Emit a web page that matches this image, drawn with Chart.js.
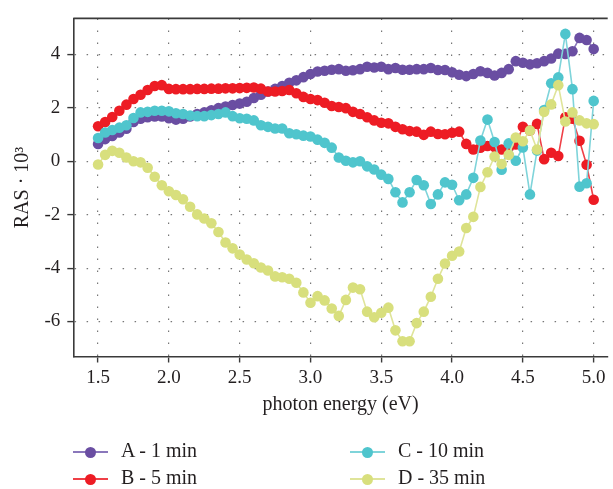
<!DOCTYPE html>
<html>
<head>
<meta charset="utf-8">
<script src="https://cdn.jsdelivr.net/npm/chart.js@4.4.1/dist/chart.umd.min.js"></script>
<style>
  body { margin: 0; background: #fff; }
  #wrap { position: relative; width: 613px; height: 489px; }
  #legend .row { position: absolute; height: 20px; }
  #legend .line { position: absolute; left: 0; top: 9px; width: 35px; height: 2px; }
  #legend .dot { position: absolute; left: 12px; top: 5px; width: 11px; height: 11px; border-radius: 50%; }
  #legend .txt { position: absolute; left: 48px; top: -3px; white-space: nowrap;
    font-family: 'Liberation Serif', serif; font-size: 20px; color: #231f20; }
</style>
</head>
<body>
<div id="wrap">
  <canvas id="chart" width="613" height="489"></canvas>
  <div id="legend"></div>
</div>
<script>
const energies = [
  1.50, 1.55, 1.60, 1.65, 1.70, 1.75, 1.80, 1.85, 1.90, 1.95,
  2.00, 2.05, 2.10, 2.15, 2.20, 2.25, 2.30, 2.35, 2.40, 2.45,
  2.50, 2.55, 2.60, 2.65, 2.70, 2.75, 2.80, 2.85, 2.90, 2.95,
  3.00, 3.05, 3.10, 3.15, 3.20, 3.25, 3.30, 3.35, 3.40, 3.45,
  3.50, 3.55, 3.60, 3.65, 3.70, 3.75, 3.80, 3.85, 3.90, 3.95,
  4.00, 4.05, 4.10, 4.15, 4.20, 4.25, 4.30, 4.35, 4.40, 4.45,
  4.50, 4.55, 4.60, 4.65, 4.70, 4.75, 4.80, 4.85, 4.90, 4.95,
  5.00
]

const rasA = [
  0.65, 0.83, 0.95, 1.08, 1.22, 1.47, 1.59, 1.65, 1.68, 1.68,
  1.61, 1.56, 1.59, 1.68, 1.77, 1.83, 1.91, 1.99, 2.05, 2.11,
  2.16, 2.23, 2.37, 2.49, 2.61, 2.71, 2.82, 2.94, 3.03, 3.15,
  3.27, 3.36, 3.39, 3.43, 3.45, 3.39, 3.41, 3.45, 3.54, 3.51,
  3.54, 3.45, 3.49, 3.43, 3.43, 3.45, 3.45, 3.49, 3.42, 3.42,
  3.33, 3.24, 3.19, 3.27, 3.37, 3.31, 3.21, 3.31, 3.45, 3.75,
  3.69, 3.63, 3.67, 3.75, 3.85, 4.03, 4.02, 4.12, 4.62, 4.54,
  4.20
]
const rasB = [
  1.31, 1.47, 1.66, 1.89, 2.12, 2.33, 2.49, 2.67, 2.82, 2.85,
  2.71, 2.70, 2.70, 2.70, 2.71, 2.71, 2.72, 2.72, 2.73, 2.73,
  2.74, 2.75, 2.76, 2.72, 2.61, 2.61, 2.63, 2.67, 2.55, 2.41,
  2.33, 2.29, 2.19, 2.07, 2.03, 1.99, 1.85, 1.77, 1.65, 1.53,
  1.44, 1.42, 1.29, 1.20, 1.13, 1.11, 0.99, 1.11, 1.02, 1.01,
  1.07, 1.11, 0.65, 0.44, 0.51, 0.57, 0.53, 0.44, 0.51, 0.63,
  1.29, 1.15, 1.40, 0.08, 0.32, 0.20, 1.65, 1.59, 0.77, -0.13,
  -1.44
]
const rasC = [
  0.87, 1.08, 1.17, 1.26, 1.35, 1.62, 1.83, 1.85, 1.89, 1.89,
  1.87, 1.80, 1.77, 1.71, 1.69, 1.69, 1.73, 1.77, 1.83, 1.69,
  1.61, 1.59, 1.53, 1.35, 1.29, 1.23, 1.23, 1.05, 1.01, 0.96,
  0.93, 0.81, 0.69, 0.51, 0.14, 0.02, -0.04, 0.00, -0.19, -0.31,
  -0.50, -0.66, -1.16, -1.54, -1.16, -0.70, -0.90, -1.60, -1.24, -0.79,
  -0.88, -1.46, -1.24, -0.62, 0.78, 1.56, 0.72, -0.32, 0.67, 0.02,
  0.52, -1.24, 0.40, 1.92, 2.92, 3.14, 4.77, 2.70, -0.95, -0.82,
  2.26
]
const rasD = [
  -0.12, 0.24, 0.39, 0.32, 0.14, 0.00, -0.04, -0.24, -0.58, -0.90,
  -1.12, -1.26, -1.42, -1.70, -1.99, -2.14, -2.32, -2.65, -3.04, -3.26,
  -3.49, -3.68, -3.82, -3.98, -4.09, -4.31, -4.34, -4.40, -4.55, -4.91,
  -5.30, -5.05, -5.21, -5.51, -5.79, -5.19, -4.73, -4.79, -5.63, -5.84,
  -5.67, -5.48, -6.33, -6.74, -6.74, -6.06, -5.63, -5.07, -4.40, -3.83,
  -3.54, -3.38, -2.50, -2.08, -0.96, -0.41, 0.18, -0.10, 0.24, 0.89,
  0.75, 1.15, 0.44, 1.85, 2.13, 2.85, 1.49, 1.83, 1.53, 1.42,
  1.39
]

const seriesNames = ['A - 1 min', 'B - 5 min', 'C - 10 min', 'D - 35 min']
const xTicks = [1.5, 2.0, 2.5, 3.0, 3.5, 4.0, 4.5, 5.0]
const yTicks = [-6, -4, -2, 0, 2, 4]

const colors = ['#6a4ea2', '#ed1c24', '#4fc5cd', '#d8df7d']
const lineColors = ['#8a77bb', '#ef4047', '#7fd4da', '#dfe49a']

const serif = "'Liberation Serif', serif"

function toPoints(values) {
    return values.map((v, i) => ({ x: energies[i], y: v }))
}

// top frame line, the reference has no right edge
const topBorder = {
    id: 'topBorder',
    afterDraw(chart) {
        const { ctx, chartArea } = chart
        ctx.save()
        ctx.strokeStyle = '#3a3a3a'
        ctx.lineWidth = 1.6
        ctx.beginPath()
        ctx.moveTo(chartArea.left, chartArea.top)
        ctx.lineTo(chartArea.right, chartArea.top)
        ctx.stroke()
        ctx.restore()
    }
}

function buildChart() {
    const allSeries = [rasA, rasB, rasC, rasD]
    const datasets = allSeries.map((values, k) => ({
        label: seriesNames[k],
        data: toPoints(values),
        borderColor: lineColors[k],
        backgroundColor: colors[k],
        pointBackgroundColor: colors[k],
        pointBorderWidth: 0,
        pointRadius: 5.3,
        borderWidth: 1.6,
        tension: 0,
        order: 4 - k
    }))

    new Chart(document.getElementById('chart'), {
        type: 'line',
        data: { datasets },
        options: {
            responsive: false,
            animation: false,
            layout: { padding: { top: 5.7, right: 0, bottom: 0, left: 0 } },
            plugins: { legend: { display: false }, tooltip: { enabled: false } },
            scales: {
                x: {
                    type: 'linear',
                    min: 1.325,
                    max: 5.099,
                    afterBuildTicks: (scale) => { scale.ticks = xTicks.map(v => ({ value: v })) },
                    afterFit: (scale) => { scale.height = 132.5 },
                    ticks: {
                        font: { family: serif, size: 19 },
                        color: '#231f20',
                        padding: 4,
                        maxRotation: 0,
                        callback: (v) => Number(v).toFixed(1)
                    },
                    grid: { color: '#777', lineWidth: 1.2, tickLength: 6, tickColor: '#3a3a3a', tickWidth: 1.4 },
                    border: { color: '#3a3a3a', width: 1.6, dash: [1.5, 10.5] },
                    title: {
                        display: true,
                        text: 'photon energy (eV)',
                        font: { family: serif, size: 20 },
                        color: '#231f20',
                        padding: { top: 0, bottom: 72 }
                    }
                },
                y: {
                    min: -7.31,
                    max: 5.35,
                    afterBuildTicks: (scale) => { scale.ticks = yTicks.map(v => ({ value: v })) },
                    afterFit: (scale) => { scale.width = 73.3 },
                    ticks: {
                        font: { family: serif, size: 19 },
                        color: '#231f20',
                        padding: 7,
                        callback: (v) => String(v)
                    },
                    grid: { color: '#777', lineWidth: 1.2, tickLength: 6, tickColor: '#3a3a3a', tickWidth: 1.4 },
                    border: { color: '#3a3a3a', width: 1.6, dash: [1.5, 10.5] },
                    title: {
                        display: true,
                        text: 'RAS · 10³',
                        font: { family: serif, size: 20 },
                        color: '#231f20',
                        padding: { top: 11, bottom: 0 }
                    }
                }
            }
        },
        plugins: [topBorder]
    })
}

function buildLegend() {
    // two columns: A, B on the left, C, D on the right
    const slots = [
        { left: 73, top: 442 },
        { left: 73, top: 469 },
        { left: 350, top: 442 },
        { left: 350, top: 469 }
    ]
    const legend = document.getElementById('legend')
    seriesNames.forEach((name, k) => {
        const row = document.createElement('div')
        row.className = 'row'
        row.style.left = slots[k].left + 'px'
        row.style.top = slots[k].top + 'px'
        row.innerHTML =
            `<span class="line" style="background:${lineColors[k]}"></span>` +
            `<span class="dot" style="background:${colors[k]}"></span>` +
            `<span class="txt">${name}</span>`
        legend.appendChild(row)
    })
}

buildChart()
buildLegend()
</script>
</body>
</html>
